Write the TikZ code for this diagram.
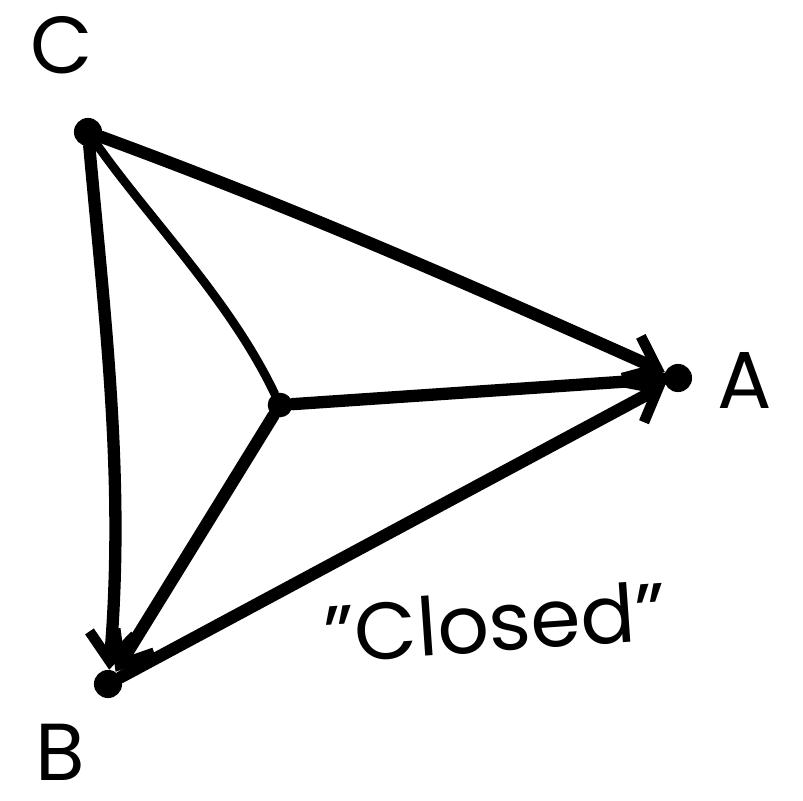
\documentclass[tikz,border=0pt]{standalone}
\usepackage{fontspec}
\setmainfont{Poppins}
\usetikzlibrary{arrows.meta, positioning}

\begin{document}
\begin{tikzpicture}[
  x=0.02cm, y=-0.02cm,
  edge/.style  = {line width=7pt, line cap=round},
  thin edge/.style = {line width=5pt, line cap=round},
  arr/.style   = {edge, -{Straight Barb[length=16pt, width=26pt, line width=6pt]}},
  vert/.style  = {circle, fill=black, inner sep=0pt, minimum size=16pt},
  lbl/.style   = {font=\fontsize{46}{50}\selectfont},
]
  \useasboundingbox (0,0) rectangle (803,800);

  % vertices
  \node[vert] (c) at (88,132) {};
  \node[vert] (a) at (678,378) {};
  \node[vert] (b) at (108,684) {};
  \node[vert, minimum size=14pt] (m) at (280,405) {};

  % labels
  \node[lbl] (lc) at (62,45) {C};
  \node[lbl] (la) at (745,380) {A};
  \node[lbl] (lb) at (60,752) {B};
  \node[lbl, rotate=4] (closed) at (495,622) {"Closed"};

  % outer edges
  \draw[arr] (c) .. controls (300,210) and (470,285) .. (a);
  \draw[arr] (b) -- (a);
  \draw[arr] (c) .. controls (105,320) and (125,480) .. (b);

  % spokes from the middle
  \draw[thin edge] (m) .. controls (230,300) and (150,220) .. (c);
  \draw[edge] (m) -- (a);
  \draw[arr] (m) -- (b);
\end{tikzpicture}
\end{document}
